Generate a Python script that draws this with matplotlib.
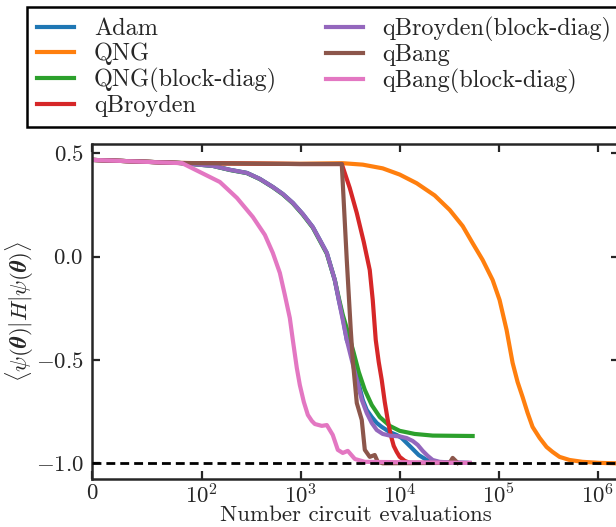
# plot.py — 옵티마이저별 에너지 수렴 곡선 (symlog x축)
import matplotlib
matplotlib.use("Agg")
import matplotlib.pyplot as plt

plt.rcParams["font.family"] = "serif"
plt.rcParams["font.serif"] = ["cmr10", "DejaVu Serif"]
plt.rcParams["mathtext.fontset"] = "cm"
plt.rcParams["axes.formatter.use_mathtext"] = True
plt.rcParams["font.size"] = 16.5

INK = "#262626"

# 곡선 데이터
adam_x = [0, 80, 129, 192, 285, 385, 521, 658, 830, 1047, 1322, 1556, 1832, 2205, 2421,
          2657, 2915, 3516, 3766, 4229, 4642, 5214, 5858, 6580, 7925, 9326, 10480, 12920,
          15560, 18740, 25350, 47520]
adam_y = [0.468, 0.453, 0.439, 0.420, 0.405, 0.376, 0.337, 0.303, 0.260, 0.206, 0.143,
          0.081, 0.018, -0.113, -0.210, -0.296, -0.403, -0.500, -0.597, -0.693, -0.742,
          -0.776, -0.805, -0.824, -0.849, -0.863, -0.878, -0.921, -0.960, -0.984, -0.996, -0.998]

qng_x = [0, 80, 977, 2657, 4229, 6734, 10000, 14850, 22570, 32000, 43300, 54630, 68930,
         86990, 102300, 120400, 138500, 155600, 174700, 196300, 220500, 259500, 305400,
         351200, 413200, 521400, 705700, 1047600, 1520000, 1650000]
qng_y = [0.468, 0.453, 0.449, 0.452, 0.445, 0.427, 0.397, 0.355, 0.296, 0.226, 0.148,
         0.065, -0.016, -0.113, -0.210, -0.355, -0.514, -0.607, -0.679, -0.756, -0.824,
         -0.877, -0.921, -0.945, -0.969, -0.984, -0.993, -0.998, -1.0, -1.0]

qngbd_x = [0, 80, 129, 192, 285, 385, 521, 658, 830, 1047, 1322, 1556, 1832, 2205, 2421,
           2657, 3054, 3430, 3854, 4436, 5214, 6281, 7925, 10000, 14170, 21540, 54630]
qngbd_y = [0.468, 0.453, 0.439, 0.419, 0.404, 0.375, 0.336, 0.301, 0.258, 0.203, 0.140,
           0.077, 0.014, -0.113, -0.200, -0.282, -0.379, -0.466, -0.558, -0.645, -0.718,
           -0.776, -0.819, -0.843, -0.858, -0.866, -0.868]

qbr_x = [0, 80, 977, 2595, 3126, 3680, 4330, 4977, 5337, 5722, 6135, 6580, 7057, 7564,
         8112, 8698, 9326, 10000, 11230, 12620, 20090]
qbr_y = [0.468, 0.453, 0.448, 0.448, 0.332, 0.211, 0.071, -0.065, -0.210, -0.403, -0.510,
         -0.597, -0.703, -0.790, -0.863, -0.916, -0.945, -0.969, -0.988, -0.998, -0.998]

qbrbd_x = [0, 80, 129, 192, 285, 385, 521, 658, 830, 1047, 1322, 1556, 1832, 2205, 2421,
           2657, 2915, 3274, 3680, 4132, 4642, 5214, 5858, 6734, 7925, 10000, 11770, 13530,
           15200, 17080, 19180, 21540, 25350, 32000, 50930]
qbrbd_y = [0.468, 0.453, 0.439, 0.420, 0.405, 0.376, 0.337, 0.303, 0.260, 0.206, 0.143,
           0.081, 0.018, -0.113, -0.210, -0.306, -0.403, -0.500, -0.597, -0.693, -0.757,
           -0.805, -0.839, -0.858, -0.866, -0.870, -0.878, -0.892, -0.911, -0.940, -0.964,
           -0.984, -0.993, -0.996, -0.998]

qbang_x = [0, 80, 977, 2595, 2915, 3199, 3351, 3680, 4132, 4436, 4977, 5591, 5995, 6734,
           32000, 34310, 38540]
qbang_y = [0.468, 0.453, 0.448, 0.448, -0.016, -0.355, -0.500, -0.708, -0.790, -0.935,
           -0.969, -0.960, -0.993, -1.0, -0.998, -0.974, -0.998]

qbangbd_x = [0, 82, 152, 226, 327, 433, 521, 614, 689, 774, 830, 911, 977, 1072, 1178,
             1292, 1387, 1630, 1832, 2104, 2366, 2655, 2985, 3516, 4436, 50930]
qbangbd_y = [0.468, 0.452, 0.361, 0.284, 0.192, 0.105, 0.018, -0.079, -0.185, -0.297,
             -0.403, -0.539, -0.621, -0.703, -0.766, -0.795, -0.810, -0.819, -0.815, -0.863,
             -0.935, -0.950, -0.940, -0.979, -0.993, -0.998]

series = [
    ("Adam", adam_x, adam_y),
    ("QNG", qng_x, qng_y),
    ("QNG(block-diag)", qngbd_x, qngbd_y),
    ("qBroyden", qbr_x, qbr_y),
    ("qBroyden(block-diag)", qbrbd_x, qbrbd_y),
    ("qBang", qbang_x, qbang_y),
    ("qBang(block-diag)", qbangbd_x, qbangbd_y),
]
ground = -1.0
x_max = 1.65e6

fig = plt.figure(figsize=(6.16, 5.27), dpi=100)
ax = fig.add_axes([0.1494, 0.0911, 0.8555, 0.6357])

for name, xs, ys in series:
    ax.plot(xs, ys, lw=3, label=name)
ax.plot([0, x_max], [ground, ground], color="black", lw=2, ls=(0, (3.2, 1.8)), zorder=5)

ax.set_xscale("symlog", linthresh=100)
ax.set_xlim(0, x_max)
ax.set_ylim(-1.076, 0.545)
ax.set_yticks([0.5, 0.0, -0.5, -1.0])
ax.xaxis.set_minor_locator(matplotlib.ticker.NullLocator())

for s in ax.spines.values():
    s.set_linewidth(1.8)
    s.set_color(INK)
ax.tick_params(direction="in", top=True, right=True, length=6, width=1.6,
               color=INK, labelcolor=INK, pad=6)
ax.tick_params(axis="x", pad=3)

ax.set_xlabel("Number circuit evaluations", color=INK, fontsize=16.5, labelpad=-1.5)
ax.set_ylabel(r"$\langle\psi(\boldsymbol{\theta})|H|\psi(\boldsymbol{\theta})\rangle$",
              color=INK, labelpad=0)

leg = fig.legend(*ax.get_legend_handles_labels(), loc="upper left",
                 bbox_to_anchor=(0.0438, 0.9867), borderaxespad=0, ncol=2,
                 fancybox=False, edgecolor="black", framealpha=1, fontsize=17.5,
                 handlelength=1.55, columnspacing=2.0, labelspacing=0.1)
leg.get_frame().set_linewidth(1.8)
for t in leg.get_texts():
    t.set_color(INK)

fig.savefig("out.png", dpi=100)
